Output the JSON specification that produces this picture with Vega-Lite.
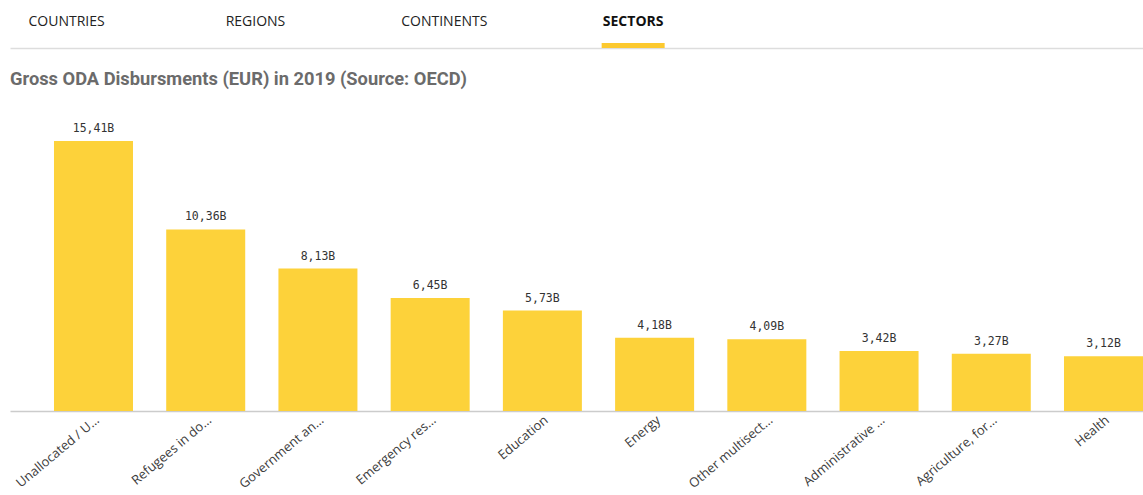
{
  "$schema": "https://vega.github.io/schema/vega-lite/v6.json",
  "padding": {"left": 10, "top": 0, "right": 0, "bottom": 0},
  "background": "white",
  "spacing": 20,
  "config": {
    "view": {"stroke": null},
    "locale": {"number": {"decimal": ",", "thousands": ".", "grouping": [3], "currency": ["", "B"]}}
  },
  "vconcat": [
    {
      "width": 1133,
      "height": 48,
      "data": {"values": [
        {"tab": "COUNTRIES", "selected": false},
        {"tab": "REGIONS", "selected": false},
        {"tab": "CONTINENTS", "selected": false},
        {"tab": "SECTORS", "selected": true}
      ]},
      "encoding": {
        "x": {"field": "tab", "type": "nominal", "sort": null, "bandPosition": 0.3,
          "scale": {"type": "band", "paddingInner": 0, "paddingOuter": 1, "align": 0},
          "axis": {"title": null, "labels": false, "ticks": false, "domainColor": "#dddddd", "domainWidth": 1.5}}
      },
      "layer": [
        {"transform": [{"filter": "!datum.selected"}],
         "mark": {"type": "text", "font": "Open Sans", "fontSize": 14, "color": "#222222", "dy": -2},
         "encoding": {"text": {"field": "tab"}}},
        {"transform": [{"filter": "datum.selected"}],
         "mark": {"type": "text", "font": "Open Sans", "fontSize": 14, "fontWeight": "bold", "color": "#111111", "dy": -2},
         "encoding": {"text": {"field": "tab"}}},
        {"transform": [{"filter": "datum.selected"}],
         "mark": {"type": "point", "shape": "M-1,-0.0794H1V0.0794H-1Z", "size": 3969, "filled": true, "opacity": 1, "color": "#FCC92F", "strokeWidth": 0, "yOffset": 21.5}}
      ]
    },
    {
      "width": 1133,
      "height": 311,
      "title": {"text": "Gross ODA Disbursments (EUR) in 2019 (Source: OECD)", "anchor": "start", "font": "Roboto", "fontSize": 18.3, "fontWeight": "bold", "color": "#6b6b6b", "offset": 11},
      "data": {"values": [
        {"sector": "Unallocated / Unspecified", "value": 15.41},
        {"sector": "Refugees in donor countries", "value": 10.36},
        {"sector": "Government and civil society", "value": 8.13},
        {"sector": "Emergency response", "value": 6.45},
        {"sector": "Education", "value": 5.73},
        {"sector": "Energy", "value": 4.18},
        {"sector": "Other multisector", "value": 4.09},
        {"sector": "Administrative costs of donors", "value": 3.42},
        {"sector": "Agriculture, forestry, fishing", "value": 3.27},
        {"sector": "Health", "value": 3.12}
      ]},
      "encoding": {
        "x": {"field": "sector", "type": "nominal", "sort": null,
          "scale": {"paddingInner": 0.296, "paddingOuter": 0.196, "align": 1},
          "axis": {"title": null, "labelAngle": -40, "labelAlign": "right", "labelBaseline": "middle", "labelOffset": 4, "labelFont": "Open Sans", "labelFontSize": 13, "labelColor": "#3c3c3c", "labelLimit": 106, "ticks": false, "domainColor": "#cccccc", "domainWidth": 1.5, "labelPadding": 7}},
        "y": {"field": "value", "type": "quantitative", "scale": {"domain": [0, 17.75]}, "axis": null}
      },
      "layer": [
        {"mark": {"type": "bar", "color": "#FDD23A"}},
        {"mark": {"type": "text", "font": "DejaVu Sans Mono", "fontSize": 11.5, "color": "#333333", "baseline": "bottom", "dy": -7},
         "encoding": {"text": {"field": "value", "type": "quantitative", "format": "$.2f"}}}
      ]
    }
  ]
}
